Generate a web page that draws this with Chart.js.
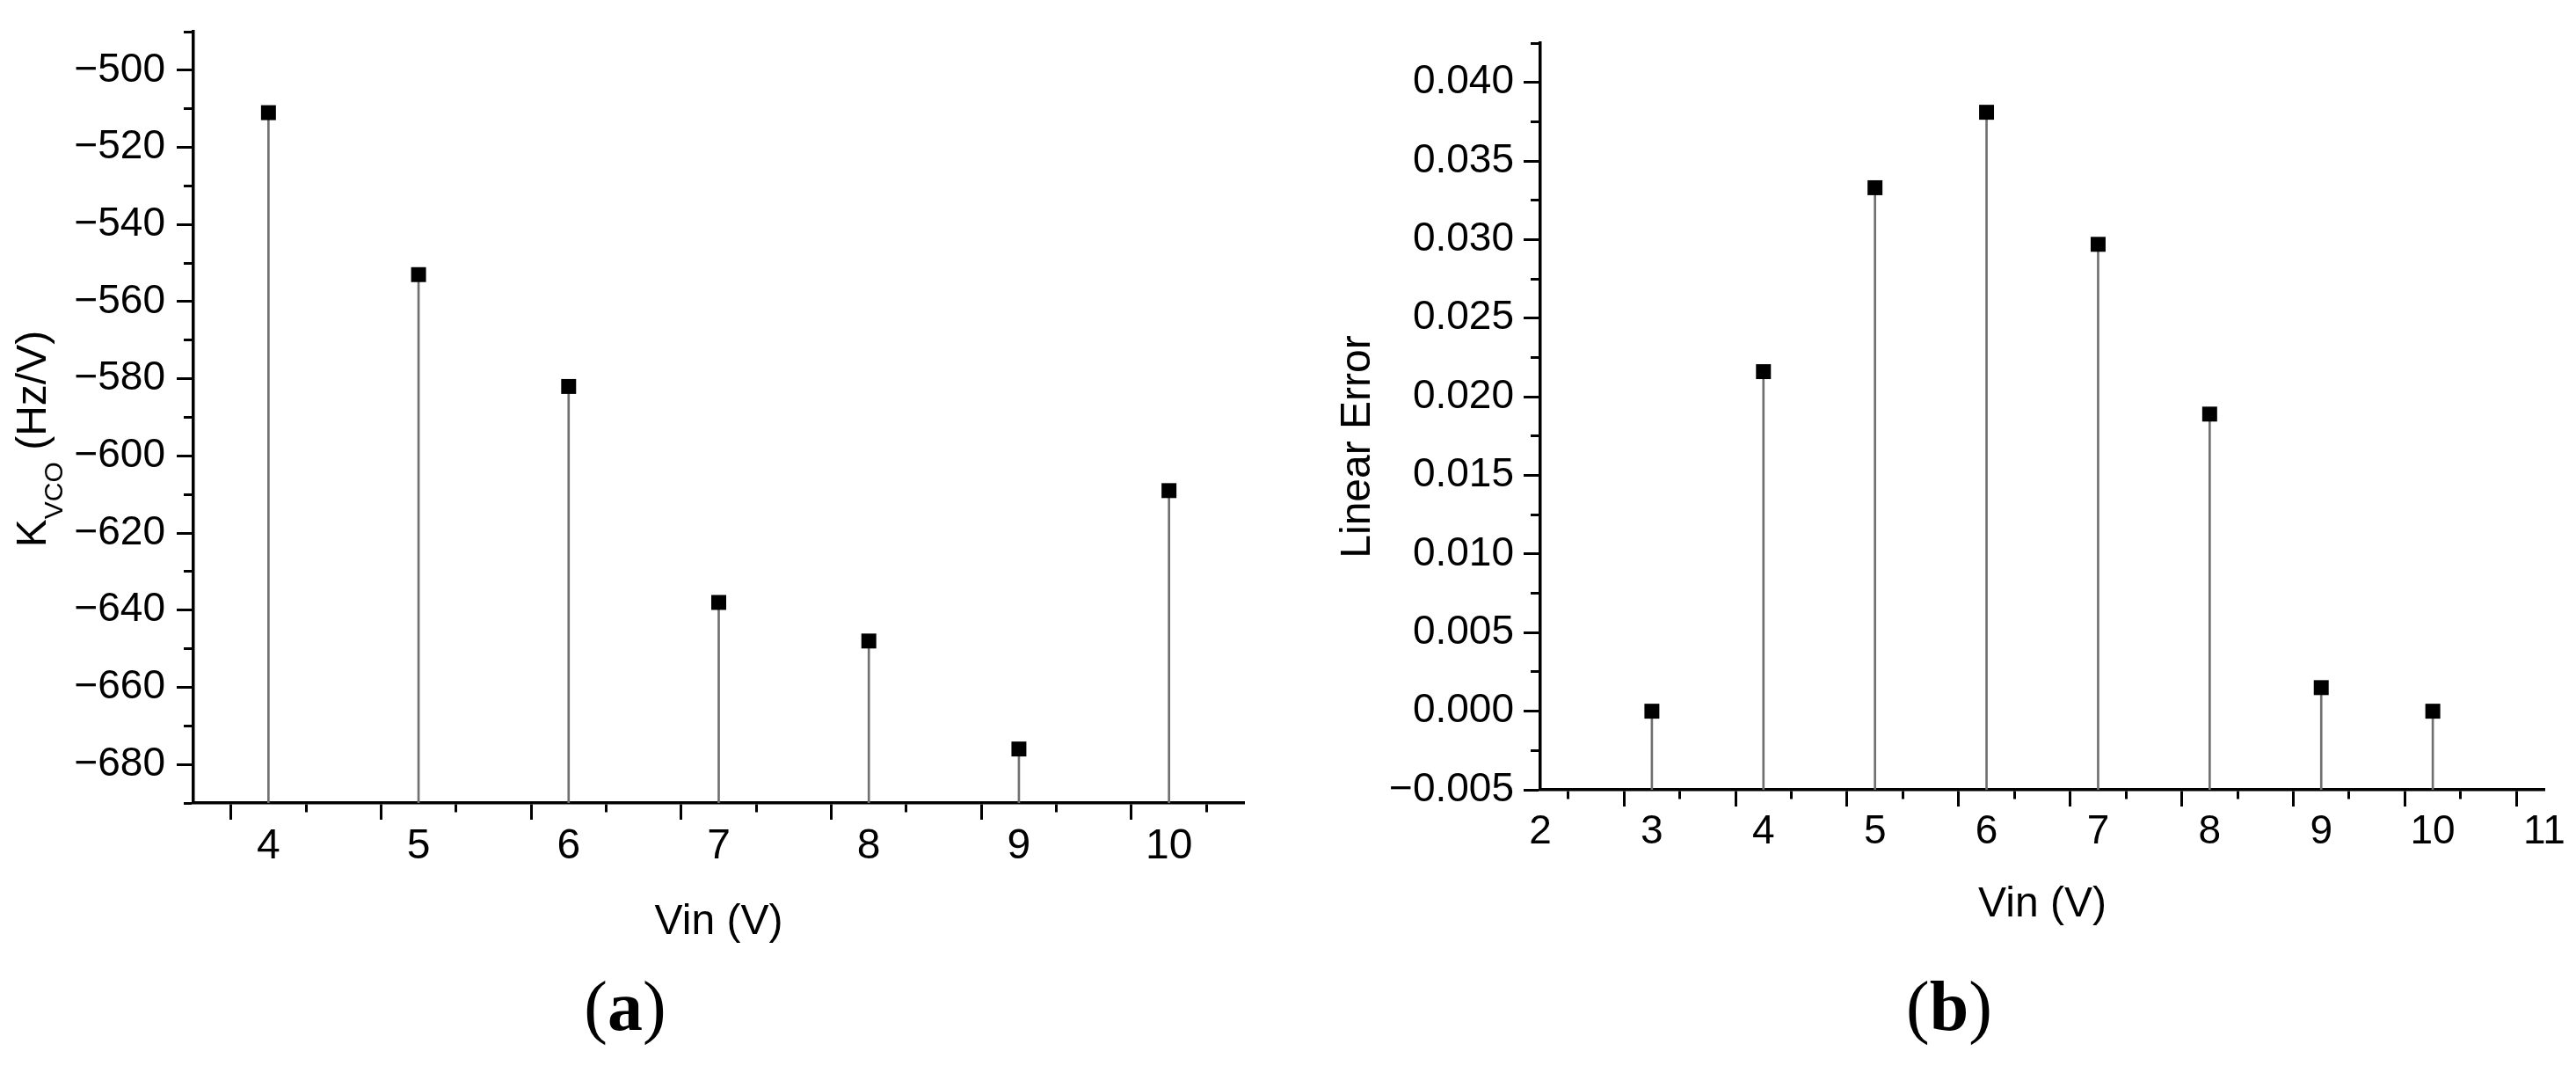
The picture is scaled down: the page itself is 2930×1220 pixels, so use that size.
<!DOCTYPE html>
<html>
<head>
<meta charset="utf-8">
<script src="https://cdn.jsdelivr.net/npm/chart.js@4.4.1/dist/chart.umd.min.js"></script>
<style>
html,body{margin:0;padding:0;background:#fff;}
body{width:2930px;height:1220px;position:relative;overflow:hidden;font-family:"Liberation Sans",Arial,sans-serif;color:#000;}
canvas{position:absolute;top:0;}
#chartA{left:0;}
#chartB{left:1450px;}
.ytitle{position:absolute;width:400px;height:60px;line-height:60px;text-align:center;font-size:48px;transform:rotate(-90deg);white-space:nowrap;}
.ytitle .sub{font-size:30px;position:relative;top:19px;}
.panel{position:absolute;width:400px;height:80px;line-height:80px;text-align:center;font-family:"Liberation Serif","Times New Roman",serif;font-size:80px;}
</style>
</head>
<body>
<canvas id="chartA" width="1450" height="1100"></canvas>
<canvas id="chartB" width="1480" height="1100"></canvas>

<div class="ytitle" style="left:-164px;top:469px">K<span class="sub">VCO</span> (Hz/V)</div>
<div class="ytitle" style="left:1342px;top:478px">Linear Error</div>
<div class="panel" style="left:511px;top:1104px">(<b>a</b>)</div>
<div class="panel" style="left:2017px;top:1104px">(<b>b</b>)</div>

<script>
// --------- DATA ----------
const vinA   = [4, 5, 6, 7, 8, 9, 10];
const kvco   = [-511, -553, -582, -638, -648, -676, -609];

const vinB   = [3, 4, 5, 6, 7, 8, 9, 10];
const linErr = [0.0000, 0.0216, 0.0333, 0.0381, 0.0297, 0.0189, 0.0015, 0.0000];

// axis ranges + labelled (major) ticks
const xRangeA = [3.5, 10.5];
const yRangeA = [-690, -490];
const xLabelsA = [4, 5, 6, 7, 8, 9, 10];
const yLabelsA = [-680, -660, -640, -620, -600, -580, -560, -540, -520, -500];

const xRangeB = [2, 11];
const yRangeB = [-0.005, 0.0425];
const xLabelsB = [2, 3, 4, 5, 6, 7, 8, 9, 10, 11];
const yLabelsB = [-0.005, 0, 0.005, 0.010, 0.015, 0.020, 0.025, 0.030, 0.035, 0.040];

// --------- HELPERS ----------
const FONT = '"Liberation Sans", Arial, sans-serif';
const isMajor = (v, list) => list.some(t => Math.abs(t - v) < 1e-9);
const fmt = (v, dec) => (v < -1e-12 ? '\u2212' : '') + Math.abs(v).toFixed(dec);

function makeAxis(o){
  return {
    type:'linear', min:o.range[0], max:o.range[1], offset:false,
    border:{display:true, width:3.5, color:'#000'},
    grid:{
      drawOnChartArea:false, drawTicks:true, tickLength:19, tickWidth:3, tickColor:'#000',
      tickBorderDash: ctx => (ctx.tick && isMajor(ctx.tick.value, o.major)) ? [] : o.minorDash
    },
    ticks:{
      stepSize:o.step, autoSkip:false, maxRotation:0, minRotation:0, padding:o.pad, color:'#000',
      font:{family:FONT, size:o.size, lineHeight:1},
      callback: v => isMajor(v, o.major) ? fmt(v, o.dec) : ''
    },
    title: o.title ? {display:true, text:o.title, color:'#000',
      font:{family:FONT, size:48, lineHeight:1.2}, padding:{top:0, bottom:o.titlePad}} : {display:false},
    afterFit: s => { if (s.isHorizontal()) s.height = o.fit; else s.width = o.fit; }
  };
}

function buildStem(id, xs, ys, xAxis, yAxis, pad){
  const yMin = yAxis.min;
  new Chart(document.getElementById(id), {
    type:'scatter',
    data:{
      datasets:[
        {type:'scatter', data: xs.map((x,i)=>({x, y:ys[i]})), pointStyle:'rect', pointRadius:12,
         pointHoverRadius:12, pointBackgroundColor:'#000', pointBorderColor:'#000', pointBorderWidth:0,
         showLine:false, order:1},
        {type:'bar', data: xs.map((x,i)=>({x, y:[yMin, ys[i]]})), backgroundColor:'#707070',
         barThickness:2, grouped:false, order:2}
      ]
    },
    options:{
      responsive:false, maintainAspectRatio:false, animation:false, devicePixelRatio:1,
      layout:{padding:pad},
      plugins:{legend:{display:false}, tooltip:{enabled:false}},
      scales:{x:xAxis, y:yAxis}
    }
  });
}

// --------- CHARTS ----------
buildStem('chartA', vinA, kvco,
  makeAxis({range:xRangeA, step:0.5, major:xLabelsA, dec:0, size:48, pad:7, minorDash:[9,100],
            title:'Vin (V)', titlePad:22, fit:187}),
  makeAxis({range:yRangeA, step:10, major:yLabelsA, dec:0, size:46, pad:13, minorDash:[0,8,12,100], fit:220}),
  {left:0, top:24, right:35, bottom:0});

buildStem('chartB', vinB, linErr,
  makeAxis({range:xRangeB, step:0.5, major:xLabelsB, dec:0, size:46, pad:6, minorDash:[9,100],
            title:'Vin (V)', titlePad:42, fit:202}),
  makeAxis({range:yRangeB, step:0.0025, major:yLabelsB, dec:3, size:46, pad:11, minorDash:[0,8,12,100], fit:302}),
  {left:0, top:49, right:36, bottom:0});
</script>
</body>
</html>
